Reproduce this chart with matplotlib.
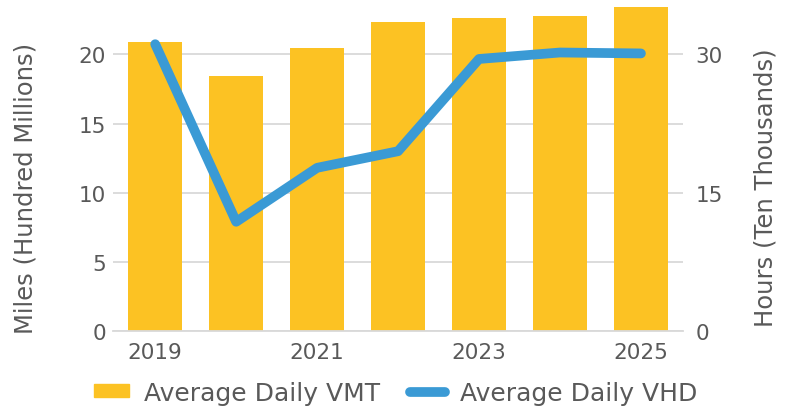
import numpy as np
import matplotlib.pyplot as plt
from matplotlib.lines import Line2D
from matplotlib.patches import Patch

years = ['2019', '2020', '2021', '2022', '2023', '2024', '2025']
vmt = [20.9, 18.4, 20.45, 22.35, 22.65, 22.8, 23.4]   # hundred millions of miles
vhd = [31.1, 11.85, 17.7, 19.5, 29.5, 30.2, 30.1]     # ten thousands of hours
shown_labels = ['2019', '', '2021', '', '2023', '', '2025']

bar_col = '#FCC223'
line_col = '#3A9AD5'
txt_col = '#595959'
plt.rcParams['font.family'] = ['DejaVu Sans']
fs = 15.5

fig = plt.figure(figsize=(7.91, 4.10), dpi=100)
ax = fig.add_axes([0.143, 0.19, 0.7205, 0.81])
x = np.arange(len(years))

ax.set_axisbelow(True)
ax.bar(x, vmt, width=0.667, color=bar_col, zorder=2)
ax.set_ylim(0, 24)
ax.set_xlim(-0.52, len(years) - 0.48)
ax.set_yticks([0, 5, 10, 15, 20])
ax.yaxis.grid(True, color='#D9D9D9', linewidth=1.3, zorder=0)
ax.set_xticks(x)
ax.set_xticklabels(shown_labels)
for s in ['top', 'right', 'left']:
    ax.spines[s].set_visible(False)
ax.spines['bottom'].set_color('#D9D9D9')
ax.spines['bottom'].set_linewidth(1.3)
ax.tick_params(length=0, labelsize=fs, colors=txt_col)
ax.tick_params(axis='x', pad=8)
ax.tick_params(axis='y', pad=5)
ax.set_ylabel('Miles (Hundred Millions)', fontsize=17.5, color=txt_col, va='center')
ax.yaxis.set_label_coords(-0.154, 0.434)

ax2 = ax.twinx()
ax2.plot(x, vhd, color=line_col, linewidth=7, solid_capstyle='round',
         solid_joinstyle='round', zorder=3)
ax2.set_ylim(0, 36)
ax2.set_yticks([0, 15, 30])
for s in ['top', 'right', 'left', 'bottom']:
    ax2.spines[s].set_visible(False)
ax2.tick_params(length=0, labelsize=fs, colors=txt_col, pad=9)
ax2.set_ylabel('Hours (Ten Thousands)', fontsize=17.5, color=txt_col, va='center')
ax2.yaxis.set_label_coords(1.144, 0.434)

handles = [Patch(color=bar_col), Line2D([0], [0], color=line_col, linewidth=7,
                                        solid_capstyle='round')]
fig.legend(handles, ['Average Daily VMT', 'Average Daily VHD'], loc='center',
           bbox_to_anchor=(0.5, 0.04), ncol=2, frameon=False, fontsize=18,
           labelcolor=txt_col, handlelength=1.4, handleheight=0.4,
           columnspacing=1.2, handletextpad=0.6)

fig.savefig('out.png', dpi=100)
